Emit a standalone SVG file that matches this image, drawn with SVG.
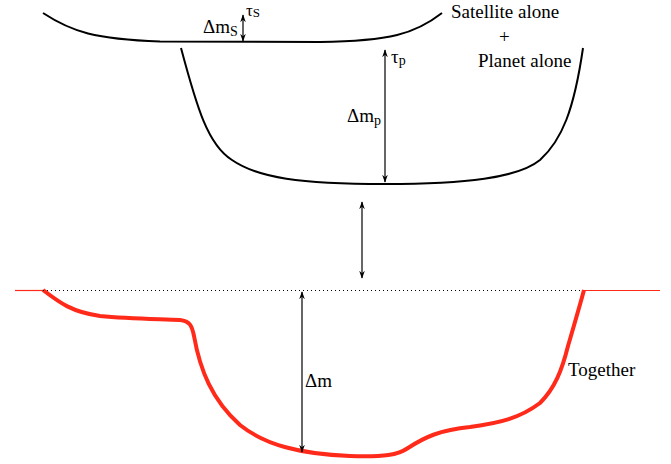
<svg xmlns="http://www.w3.org/2000/svg" width="671" height="464" viewBox="0 0 671 464">
<defs>
<marker id="ah" viewBox="0 0 10 10" refX="9" refY="5" markerWidth="8" markerHeight="8" markerUnits="userSpaceOnUse" orient="auto-start-reverse">
<path d="M0,1.5 L10,5 L0,8.5 L3,5 Z" fill="#000"/>
</marker>
</defs>
<style>
text{font-family:'Liberation Serif','Times New Roman',serif;font-size:19px;fill:#000}
.sub{font-size:14px}
.curve{fill:none;stroke:#000;stroke-width:2}
.red{fill:none;stroke:#ff2a1a;stroke-width:4;stroke-linejoin:round}
.redthin{fill:none;stroke:#ff2a1a;stroke-width:1.2}
.arr{stroke:#000;stroke-width:1.2;fill:none;marker-start:url(#ah);marker-end:url(#ah)}
</style>
<g id="satellite">
<path class="curve" d="M43,13 C72,32 95,39 160,41.5 L320,42 C390,41 415,34 442,13"/>
<text x="451" y="18">Satellite alone</text>
</g>
<g id="plus"><text x="499" y="43" font-size="21px">+</text></g>
<g id="planet">
<path class="curve" d="M181,48 C197,108 208,145 232,160 C258,178 300,184 385,184 C465,184 518,178 540,160 C562,140 574,110 583,48"/>
<text x="478" y="67">Planet alone</text>
</g>
<g id="together">
<line class="redthin" x1="15" y1="290.5" x2="43" y2="290.5"/>
<line class="redthin" x1="583" y1="290.5" x2="660" y2="290.5"/>
<path class="red" d="M43,290 C60,303 72,312 100,316 C130,319 160,319 180,320 C190,321 192,326 194,336 C200,370 212,400 240,425 C265,445 300,454 350,456 C385,457 398,455 408,448 C425,437 440,430 470,427 C500,423 520,418 540,403 C555,388 562,370 568,346 C575,322 580,305 584,290"/>
<text x="568" y="376">Together</text>
</g>
<g id="connectors">
<line x1="43" y1="290.5" x2="583" y2="290.5" stroke="#000" stroke-width="1" stroke-dasharray="1,3"/>
<line class="arr" x1="243" y1="15" x2="243" y2="41"/>
<line class="arr" x1="385" y1="50" x2="385" y2="182"/>
<line class="arr" x1="362" y1="202" x2="362" y2="278"/>
<line class="arr" x1="302" y1="292" x2="302" y2="452"/>
</g>
<g id="labels">
<text x="246" y="15.5" style="font-size:17px">τ<tspan dy="1" style="font-size:13px">S</tspan></text>
<text x="203" y="33">Δm<tspan class="sub" dy="3">S</tspan></text>
<text x="391" y="63">τ<tspan class="sub" dy="2">p</tspan></text>
<text x="347" y="122">Δm<tspan class="sub" dy="3">p</tspan></text>
<text x="305" y="387">Δm</text>
</g>
</svg>
